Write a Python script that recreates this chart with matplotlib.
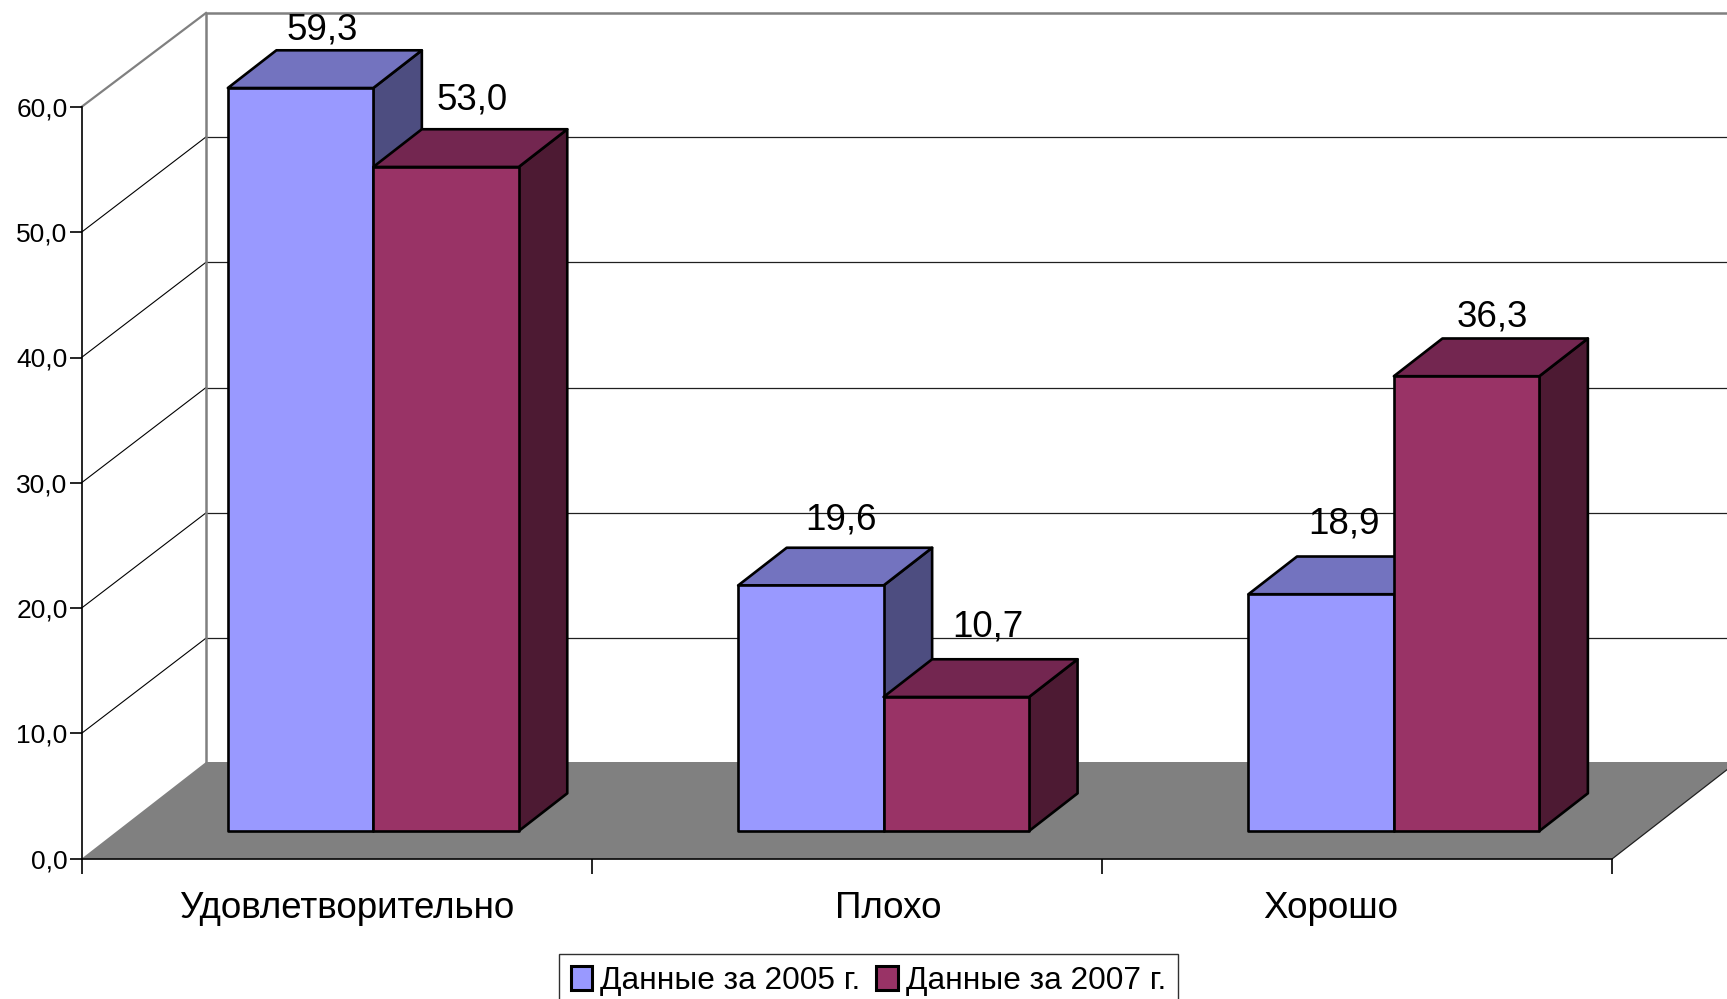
import matplotlib
matplotlib.use("Agg")
import matplotlib.pyplot as plt
from matplotlib.patches import Patch, Polygon

plt.rcParams['font.family'] = ['Liberation Sans', 'DejaVu Sans']

categories = ['Удовлетворительно', 'Плохо', 'Хорошо']
series_names = ['Данные за 2005 г.', 'Данные за 2007 г.']
values_2005 = [59.3, 19.6, 18.9]
values_2007 = [53.0, 10.7, 36.3]
value_labels_2005 = ['59,3', '19,6', '18,9']
value_labels_2007 = ['53,0', '10,7', '36,3']
y_ticks = [0, 10, 20, 30, 40, 50, 60]

# hand placed label shifts, in points from the default spot
nudge_2005 = [(-3.4, -5.0), (2.9, 0.6), (-2.6, 3.7)]
nudge_2007 = [(-0.2, 1.3), (3.7, 3.7), (-0.2, -4.2)]

# pixel scale of the picture
W, H = 1727, 999
x0_px, cat_px = 81.5, 510.3
y0_px, unit_px = 858.7, 12.53

# fake 3d: depth 0..1 moves a point right and up
depth_x = 124.5 / cat_px
depth_y = 96.7 / unit_px
bar_z0, bar_z1 = 0.286, 0.676
bar_w = 0.285
bar_start = 0.217
grid_z = 0.985


def proj(x, y, z):
    return x + z * depth_x, y + z * depth_y


fig = plt.figure(figsize=(W / 100, H / 100), dpi=100)
ax = fig.add_axes([0, 0, 1, 1])
ax.set_xlim(-x0_px / cat_px, (W - x0_px) / cat_px)
ax.set_ylim((y0_px - H) / unit_px, y0_px / unit_px)
ax.patch.set_visible(False)

top_val = 59.78
n = len(categories)

# floor
ax.add_patch(Polygon([proj(0, 0, 0), proj(n, 0, 0), proj(n, 0, 1), proj(0, 0, 1)],
                     facecolor='#808080', edgecolor='none', zorder=1))
ax.plot(*zip(proj(n, 0, 0), proj(n, 0, 1)), color='#202020', lw=0.9, zorder=2)

# walls
for v in y_ticks[1:-1]:
    back_y = proj(0, v, grid_z)[1]
    wall_x = proj(0, v, 1)[0]
    ax.plot([0, wall_x], [v, back_y], color='black', lw=0.8, zorder=1)
    ax.plot([wall_x, proj(n, v, 1)[0]], [back_y, back_y], color='#202020', lw=0.9, zorder=1)
ax.plot(*zip(proj(0, 60, 0), proj(0, top_val, 1)), color='#808080', lw=1.6, zorder=1)
ax.plot(*zip(proj(0, 0, 1), proj(0, top_val, 1), proj(n, top_val, 1)),
        color='#808080', lw=1.8, zorder=1)


def draw_bar(left, val, front, top, side, label, nudge):
    right = left + bar_w
    faces = [
        ([proj(right, 0, bar_z0), proj(right, 0, bar_z1),
          proj(right, val, bar_z1), proj(right, val, bar_z0)], side),
        ([proj(left, val, bar_z0), proj(right, val, bar_z0),
          proj(right, val, bar_z1), proj(left, val, bar_z1)], top),
        ([proj(left, 0, bar_z0), proj(right, 0, bar_z0),
          proj(right, val, bar_z0), proj(left, val, bar_z0)], front),
    ]
    for pts, col in faces:
        ax.add_patch(Polygon(pts, facecolor=col, edgecolor='black', lw=1.9,
                             joinstyle='round', zorder=3))
    lx, ly = proj(left + bar_w / 2, val, bar_z1)
    ax.annotate(label, (lx, ly), xytext=(-16 + nudge[0], 19.7 + nudge[1]),
                textcoords='offset points', ha='center', va='center',
                fontsize=26.5, color='black', zorder=4)


for i in range(n):
    left = i + bar_start
    draw_bar(left, values_2005[i], '#9999FF', '#7373BF', '#4D4D80',
             value_labels_2005[i], nudge_2005[i])
    draw_bar(left + bar_w, values_2007[i], '#993366', '#732650', '#4D1A33',
             value_labels_2007[i], nudge_2007[i])

# axes
for s in ['top', 'right']:
    ax.spines[s].set_visible(False)
ax.spines['left'].set_position(('data', 0))
ax.spines['left'].set_bounds(0, 60)
ax.spines['bottom'].set_position(('data', 0))
ax.spines['bottom'].set_bounds(0, n)
ax.spines['left'].set_linewidth(1.2)
ax.spines['bottom'].set_linewidth(1.2)
ax.spines['left'].set_zorder(2)
ax.spines['bottom'].set_zorder(2)
ax.set_yticks(y_ticks)
ax.set_yticklabels([f'{v},0' for v in y_ticks], fontsize=19)
ax.set_xticks(range(n + 1))
ax.set_xticklabels([])
# names do not sit at the middle of their groups in the original
ax.set_xticks([0.520, 1.580, 2.447], categories, minor=True)
ax.tick_params(axis='y', length=8.5, width=1.2, pad=1.5)
ax.tick_params(axis='x', which='major', length=11, width=1.2)
ax.tick_params(axis='x', which='minor', length=0, pad=23, labelsize=26.5)

handles = [Patch(facecolor='#9999FF', edgecolor='black', lw=2.2, joinstyle='round'),
           Patch(facecolor='#993366', edgecolor='black', lw=2.2, joinstyle='round')]
leg = ax.legend(handles, series_names, ncol=2, loc='upper left',
                bbox_to_anchor=(558.5 / W, 1 - 953.5 / H), bbox_transform=fig.transFigure,
                fontsize=22.8, frameon=True, fancybox=False, framealpha=1, edgecolor='#303030',
                handlelength=0.68, handleheight=0.8, handletextpad=0.25, columnspacing=0.5,
                borderpad=0.38, borderaxespad=0, labelspacing=0)
leg.get_frame().set_linewidth(1.0)

plt.savefig('out.png', dpi=100)
